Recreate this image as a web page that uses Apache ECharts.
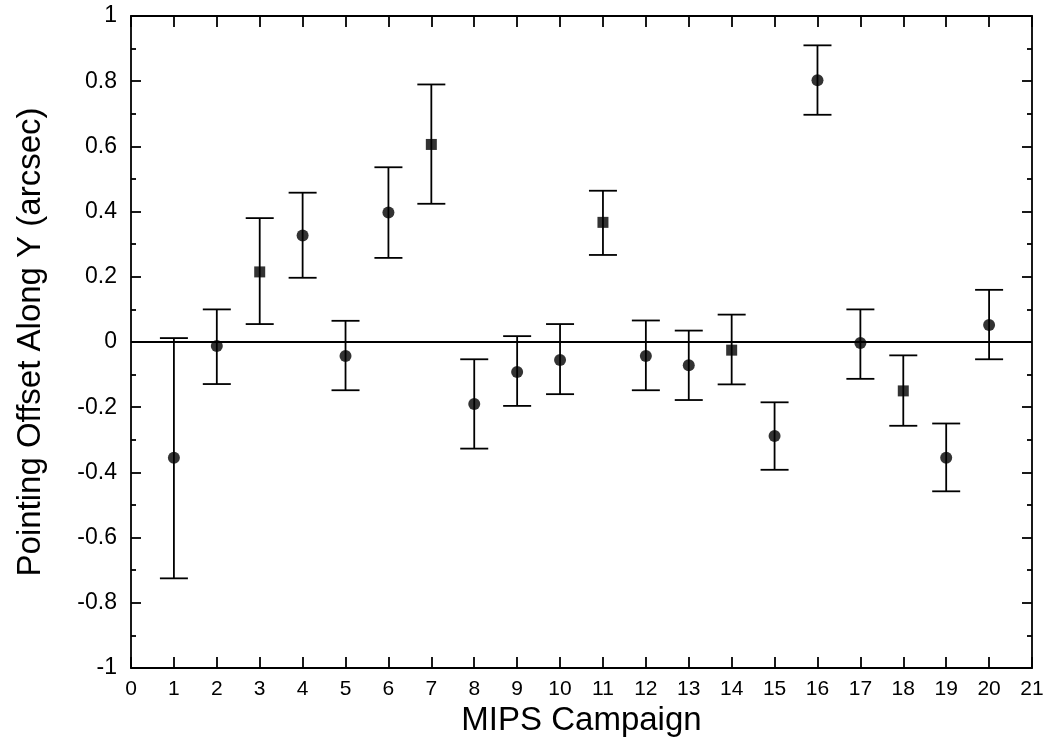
<!DOCTYPE html>
<html>
<head>
<meta charset="utf-8">
<script src="https://cdn.jsdelivr.net/npm/echarts@6/dist/echarts.min.js"></script>
<style>
  html, body { margin: 0; padding: 0; background: #fff; }
  #main { width: 1053px; height: 738px; }
</style>
</head>
<body>
<div id="main"></div>
<script>
// campaign numbers and pointing offsets (arcsec)
var campaigns = [1, 2, 3, 4, 5, 6, 7, 8, 9, 10, 11, 12, 13, 14, 15, 16, 17, 18, 19, 20];
var offsets   = [-0.355, -0.012, 0.215, 0.327, -0.043, 0.397, 0.606, -0.19, -0.092, -0.055, 0.367, -0.043, -0.071, -0.025, -0.288, 0.803, -0.003, -0.15, -0.355, 0.052];
var errTop    = [0.012, 0.10, 0.38, 0.458, 0.065, 0.536, 0.79, -0.053, 0.018, 0.055, 0.464, 0.066, 0.035, 0.084, -0.185, 0.91, 0.10, -0.041, -0.25, 0.16];
var errBottom = [-0.725, -0.129, 0.055, 0.197, -0.148, 0.258, 0.424, -0.327, -0.196, -0.16, 0.267, -0.148, -0.178, -0.13, -0.392, 0.697, -0.113, -0.257, -0.458, -0.053];
// campaigns drawn with a square marker instead of a dot
var squareCampaigns = [3, 7, 11, 14, 18];

var chart = echarts.init(document.getElementById('main'), null, { renderer: 'canvas' });

var font = '"Liberation Sans", Arial, Helvetica, sans-serif';

var pointData = [];
var barData = [];
for (var i = 0; i < campaigns.length; i++) {
  var sq = squareCampaigns.indexOf(campaigns[i]) >= 0;
  pointData.push({
    value: [campaigns[i], offsets[i]],
    symbol: sq ? 'rect' : 'circle',
    symbolSize: sq ? 11 : 12
  });
  barData.push([campaigns[i], errBottom[i], errTop[i]]);
}

function renderErrorBar(params, api) {
  var x = api.value(0);
  var lo = api.coord([x, api.value(1)]);
  var hi = api.coord([x, api.value(2)]);
  var half = 14;
  var style = { stroke: '#000', lineWidth: 1.8 };
  return {
    type: 'group',
    children: [
      { type: 'line', shape: { x1: hi[0], y1: hi[1], x2: lo[0], y2: lo[1] }, style: style },
      { type: 'line', shape: { x1: hi[0] - half, y1: hi[1], x2: hi[0] + half, y2: hi[1] }, style: style },
      { type: 'line', shape: { x1: lo[0] - half, y1: lo[1], x2: lo[0] + half, y2: lo[1] }, style: style }
    ]
  };
}

var axisLine = { show: true, onZero: false, lineStyle: { color: '#000', width: 1.8 } };
var xTick = { inside: true, length: 11, lineStyle: { color: '#000', width: 1.8 } };
var yTick = { inside: true, length: 10, lineStyle: { color: '#000', width: 1.8 } };
var yMinor = { show: true, splitNumber: 2, length: 5, lineStyle: { color: '#000', width: 1.8 } };

chart.setOption({
  animation: false,
  backgroundColor: '#fff',
  grid: { left: 131, right: 21, top: 16, bottom: 70, outerBoundsMode: 'none' },
  xAxis: [{
    type: 'value', min: 0, max: 21, interval: 1,
    name: 'MIPS Campaign', nameLocation: 'middle', nameGap: 33,
    nameTextStyle: { fontFamily: font, fontSize: 33, color: '#000' },
    axisLine: axisLine,
    axisTick: xTick,
    axisLabel: { fontFamily: font, fontSize: 21, color: '#000', margin: 11 },
    splitLine: { show: false }
  }, {
    type: 'value', position: 'top', min: 0, max: 21, interval: 1,
    axisLine: axisLine,
    axisTick: xTick,
    axisLabel: { show: false },
    splitLine: { show: false }
  }],
  yAxis: [{
    type: 'value', min: -1, max: 1, interval: 0.2,
    name: 'Pointing Offset Along Y (arcsec)', nameLocation: 'middle', nameGap: 84,
    nameTextStyle: { fontFamily: font, fontSize: 33, color: '#000' },
    axisLine: axisLine,
    axisTick: yTick,
    minorTick: yMinor,
    axisLabel: {
      fontFamily: font, fontSize: 23, color: '#000', margin: 14,
      formatter: function (v) { return String(Math.round(v * 10) / 10); }
    },
    splitLine: { show: false }
  }, {
    type: 'value', position: 'right', min: -1, max: 1, interval: 0.2,
    axisLine: axisLine,
    axisTick: yTick,
    minorTick: yMinor,
    axisLabel: { show: false },
    splitLine: { show: false }
  }],
  series: [{
    type: 'custom',
    renderItem: renderErrorBar,
    data: barData,
    encode: { x: 0, y: [1, 2] },
    z: 2,
    markLine: {
      silent: true,
      symbol: 'none',
      label: { show: false },
      lineStyle: { color: '#000', width: 1.8, type: 'solid' },
      data: [{ yAxis: 0 }]
    }
  }, {
    type: 'scatter',
    data: pointData,
    itemStyle: { color: '#000' },
    z: 3
  }]
});
</script>
</body>
</html>
